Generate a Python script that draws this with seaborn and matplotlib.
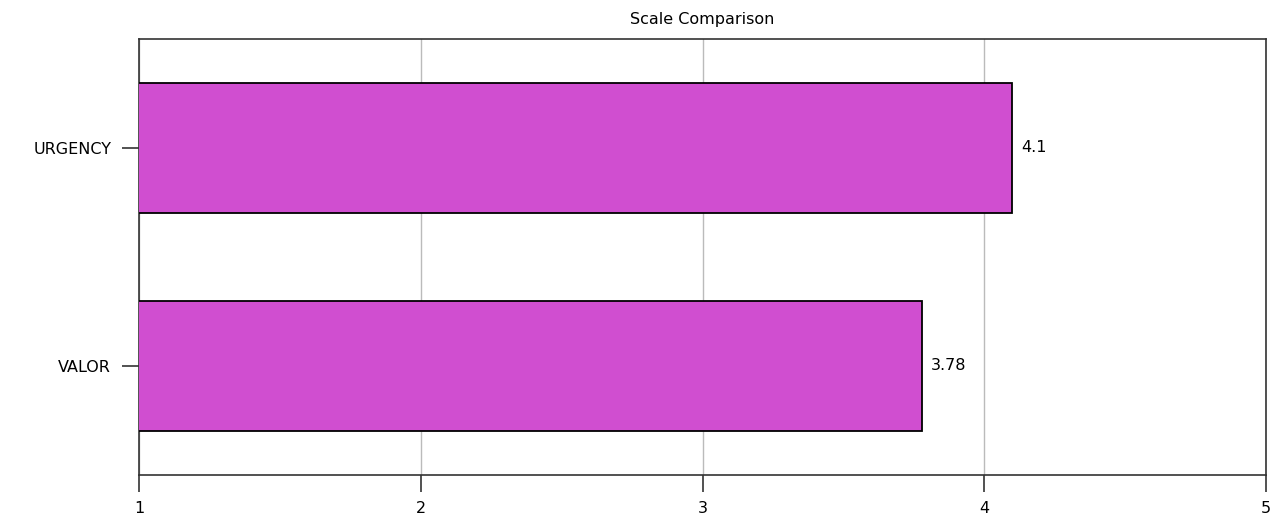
import matplotlib
matplotlib.use("Agg")
import matplotlib.pyplot as plt
import seaborn as sns
import pandas as pd

categories = ["URGENCY", "VALOR"]
values = [4.1, 3.78]
value_labels = ["4.1", "3.78"]
x_ticks = [1, 2, 3, 4, 5]
title = "Scale Comparison"

sns.set_style("white")
plt.rcParams['font.family'] = ['DejaVu Sans']

df = pd.DataFrame({"category": categories, "value": values})

fig = plt.figure(figsize=(12.84, 5.24), dpi=100)
ax = fig.add_axes([139/1284, 1 - 475/524, (1266-139)/1284, (475-39)/524])

sns.barplot(data=df, y="category", x="value", orient="h", color="#D04ED0",
            saturation=1, width=0.6, edgecolor="black", linewidth=1.3, ax=ax, zorder=3)

ax.set_xlim(1, 5)
ax.set_ylim(1.5, -0.5)
ax.set_xticks(x_ticks)
ax.set_xticklabels([str(t) for t in x_ticks])
ax.xaxis.grid(True, color="#BBBBBB", linewidth=1, zorder=0)
ax.yaxis.grid(False)
ax.set_axisbelow(True)
ax.set_xlabel("")
ax.set_ylabel("")
ax.set_title(title, fontsize=11.5, pad=11, color="black")

for s in ax.spines.values():
    s.set_visible(True)
    s.set_color("#333333")
    s.set_linewidth(1.2)

ax.tick_params(axis="both", which="both", direction="out", length=12, width=1.2,
               color="#333333", labelsize=11.5, labelcolor="black",
               bottom=True, left=True, top=False, right=False)
ax.tick_params(axis="x", pad=7)
ax.tick_params(axis="y", pad=8)

for p, lab in zip(ax.patches, value_labels):
    ax.annotate(lab, (p.get_width(), p.get_y() + p.get_height() / 2),
                xytext=(6, 0), textcoords="offset points", ha="left", va="center",
                fontsize=11.5, color="black")

fig.savefig("out.png", dpi=100)
